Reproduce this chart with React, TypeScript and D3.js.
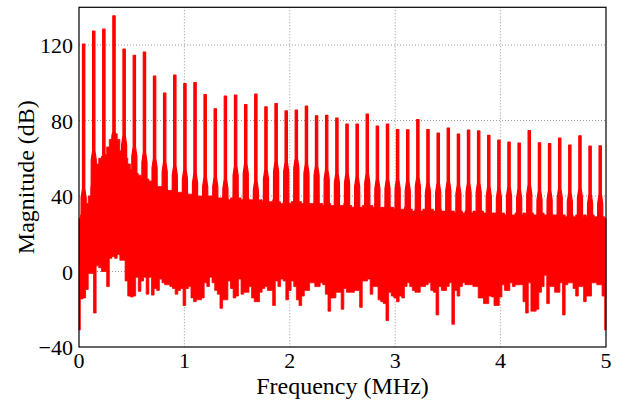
import React from 'react';
import * as d3 from 'd3';

// Harmonic line frequencies (MHz) and their magnitudes (dB)
const peakFreqs = [0.044, 0.140, 0.236, 0.332, 0.428, 0.525, 0.621, 0.717, 0.813, 0.909, 1.005, 1.101, 1.197, 1.293, 1.389, 1.486, 1.582, 1.678, 1.774, 1.870, 1.966, 2.062, 2.158, 2.254, 2.350, 2.447, 2.543, 2.639, 2.735, 2.831, 2.927, 3.023, 3.119, 3.215, 3.311, 3.408, 3.504, 3.600, 3.696, 3.792, 3.888, 3.984, 4.080, 4.176, 4.272, 4.369, 4.465, 4.561, 4.657, 4.753, 4.849, 4.945];
const peakDb = [120.5, 127.4, 128.4, 135.5, 117.8, 114.6, 116.2, 103.5, 94.5, 104.1, 99.6, 100.1, 93.8, 86.2, 92.9, 93.5, 88.5, 94.0, 87.3, 89.0, 85.1, 85.5, 87.6, 82.5, 82.7, 81.3, 78.1, 78.1, 83.4, 77.0, 78.1, 75.2, 75.1, 80.5, 75.2, 73.3, 76.0, 72.8, 74.9, 74.5, 72.1, 69.6, 68.6, 68.0, 74.7, 68.2, 67.8, 70.7, 67.0, 71.9, 66.4, 66.6];
// Level where each line's main lobe widens (dB)
const skirtDb = [42, 62, 60, 72, 70, 64, 61, 58, 56, 54, 52, 50, 48, 48, 47, 54, 55, 46, 52, 56, 56, 58, 55, 54, 52, 50, 50, 48, 50, 47, 47, 47, 46, 48, 45, 45, 46, 44, 45, 45, 43, 42, 43, 42, 44, 41, 41, 42, 40, 42, 39, 39];

// Noise floor, sampled every 0.025 MHz from 0 to 5 MHz (dB)
const noiseStep = 0.025;
const floorLow = [
  -31, -14.5, -14, -9.5, -1, -1, -22, 3, 2, 0, 0, -8, 7, 8, 7, 9, 6, 6, -5, -13,
  -13.5, -13, -3, -10.5, -5, -3, -12, -3, -12.5, -9, -10, -4, -6, -7, -7, -8, -9, -12, -10, -9,
  -18, -9, -8, -14, -16, -15, -15, -14, -6, -8, -3, -6, -10, -12, -19.5, -15, -15, -5, -9, -14,
  -13, -4, -12, -11, -11, -8, -14, -16, -16, -11, -9, -8, -10, -10, -18, -5, -8, -4, -5, -15,
  -10, -5, -8, -15, -18, -13, -10, -10, -6, -6, -8, -8, -6, -7, -12, -21, -14, -14, -11, -11,
  -20, -9, -11, -11, -11, -10, -10, -19, -5, -5, -4, -12, -8, -8, -15, -16, -17, -26, -11, -13,
  -14, -16, -13, -14, -8, -6, -8, -10, -11, -11, -8, -8, -7, -6, -10, -11, -23, -8, -10, -10,
  -8, -6, -28, -10, -13, -8, -6, -7, -7, -7, -8, -8, -14, -14, -17, -17, -13, -13.5, -18, -18,
  -13.5, -7, -10, -10, -6, -8, -7, -7, -7, -16, -22, -6, -21, -21, -20, -11, -8, -2, -17, -8,
  -8, -11, -11, -6, -23, -7, -6, -6, -9, -13, -8, -8, -16, -13, -13, -6, -6, -7, -7, -13,
  -31,
];
const floorHigh = [
  28, 30, 36, 36, 40, 45, 52, 57, 60, 61, 62, 66, 70, 73, 73, 70, 64, 61, 60, 57,
  54, 54, 52, 51, 50, 50, 49, 48, 47, 46, 45, 45, 44, 44, 43, 43, 43, 42, 42, 42,
  41, 41, 41, 41, 41, 40, 40, 40, 40, 40, 40, 39, 40, 39, 39, 40, 39, 38, 39, 39,
  38, 39, 38, 38, 39, 38, 38, 37, 38, 38, 37, 38, 37, 37, 38, 37, 37, 36, 37, 37,
  36, 37, 36, 36, 37, 36, 36, 35, 36, 36, 35, 36, 36, 35, 35, 36, 35, 35, 34, 35,
  35, 36, 35, 35, 34, 35, 35, 34, 35, 34, 34, 35, 34, 34, 33, 34, 34, 33, 34, 34,
  33, 34, 33, 33, 34, 33, 33, 32, 33, 33, 32, 33, 33, 32, 33, 32, 32, 33, 32, 32,
  31, 32, 32, 31, 32, 32, 31, 32, 31, 31, 32, 31, 31, 32, 31, 31, 30, 31, 31, 30,
  31, 31, 30, 31, 30, 30, 31, 30, 30, 31, 30, 30, 31, 30, 30, 30, 31, 30, 30, 31,
  30, 30, 29, 30, 30, 29, 30, 30, 29, 30, 30, 29, 30, 29, 29, 30, 29, 29, 30, 29,
  28,
];

const xTicks = [0, 1, 2, 3, 4, 5];
const yTicks = [-40, 0, 40, 80, 120];
const gridX = [1, 2, 3, 4];
const gridY = [0, 40, 80, 120];

export default function App() {
  const W = 625, H = 403;
  const left = 79, right = 606, top = 7.3, bottom = 347;
  const x = d3.scaleLinear().domain([0, 5]).range([left, right]);
  const y = d3.scaleLinear().domain([-40, 140]).range([bottom, top]);
  const red = '#ff0000';
  const font = '"Liberation Serif", "Times New Roman", serif';

  const noise = floorLow.map((lo, i) => ({ f: i * noiseStep, lo, hi: floorHigh[i] }));
  const area = d3.area<any>()
    .x(d => x(d.f))
    .y0(d => y(d.lo))
    .y1(d => y(d.hi))
    .curve(d3.curveStep);

  const line = d3.line<[number, number]>().x(d => x(d[0])).y(d => y(d[1]));
  const peakPath = (f: number, p: number, s: number) => {
    const pts: [number, number][] = [
      [f - 0.026, 15], [f - 0.024, s - 3], [f - 0.011, s + 2], [f - 0.011, p],
      [f + 0.011, p], [f + 0.011, s + 2], [f + 0.024, s - 3], [f + 0.026, 15],
    ];
    return line(pts) + 'Z';
  };

  return (
    <svg width={W} height={H} style={{ position: 'absolute', left: 0, top: 0, background: '#fff' }}>
      <rect x={0} y={0} width={W} height={H} fill="#fff" />
      {gridX.map(v => (
        <line key={'gx' + v} x1={x(v)} x2={x(v)} y1={top} y2={bottom} stroke="#8a8a8a" strokeWidth={0.9} strokeDasharray="1,2" />
      ))}
      {gridY.map(v => (
        <line key={'gy' + v} x1={left} x2={right} y1={y(v)} y2={y(v)} stroke="#8a8a8a" strokeWidth={0.9} strokeDasharray="1,2" />
      ))}
      <path d={area(noise) || ''} fill={red} stroke={red} strokeWidth={0.8} />
      {peakFreqs.map((f, i) => (
        <path key={'p' + i} d={peakPath(f, peakDb[i], skirtDb[i])} fill={red} stroke={red} strokeWidth={1.2} strokeLinejoin="round" />
      ))}
      <rect x={left} y={top} width={right - left} height={bottom - top} fill="none" stroke="#000" strokeWidth={1.2} />
      {xTicks.map(v => (
        <text key={'xt' + v} x={x(v)} y={368} textAnchor="middle" fontFamily={font} fontSize={22} fill="#000">{v}</text>
      ))}
      {yTicks.map(v => (
        <text key={'yt' + v} x={73} y={y(v) + 8} textAnchor="end" fontFamily={font} fontSize={22} fill="#000">{v < 0 ? '\u2212' + Math.abs(v) : v}</text>
      ))}
      <text x={(left + right) / 2} y={394} textAnchor="middle" fontFamily={font} fontSize={24} fill="#000">Frequency (MHz)</text>
      <text transform={`translate(33.5, ${(top + bottom) / 2}) rotate(-90)`} textAnchor="middle" fontFamily={font} fontSize={24} fill="#000">Magnitude (dB)</text>
    </svg>
  );
}
